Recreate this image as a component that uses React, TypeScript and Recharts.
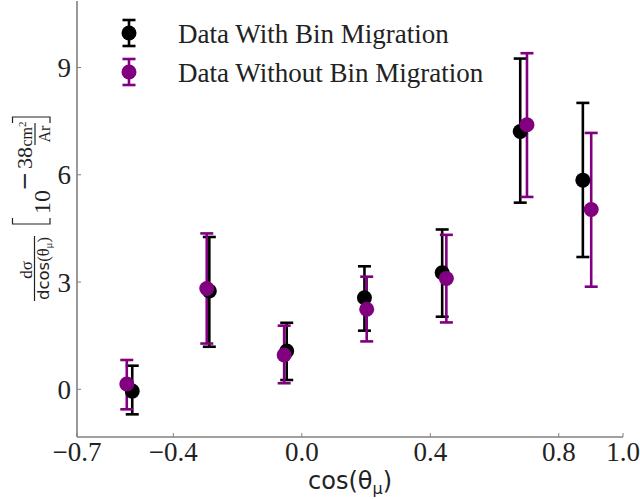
import React from 'react';
import { ScatterChart, Scatter, XAxis, YAxis, ErrorBar, Legend } from 'recharts';

// cos(theta_mu) bin positions (slightly offset per series, as in the plot)
const withX = [-0.528, -0.288, -0.047, 0.195, 0.437, 0.68, 0.875];
const withY = [-0.05, 2.75, 1.07, 2.56, 3.26, 7.21, 5.85];
const withLo = [-0.7, 1.19, 0.26, 1.64, 2.03, 5.22, 3.7];
const withHi = [0.66, 4.26, 1.86, 3.44, 4.47, 9.25, 8.01];

const withoutX = [-0.545, -0.296, -0.055, 0.202, 0.45, 0.701, 0.901];
const withoutY = [0.15, 2.82, 0.96, 2.24, 3.1, 7.4, 5.03];
const withoutLo = [-0.56, 1.28, 0.17, 1.34, 1.87, 5.38, 2.87];
const withoutHi = [0.82, 4.36, 1.78, 3.15, 4.32, 9.4, 7.17];

const xTicks = [-0.7, -0.4, 0.0, 0.4, 0.8, 1.0];
const xTickLabels = ['\u22120.7', '\u22120.4', '0.0', '0.4', '0.8', '1.0'];
const yTicks = [0, 3, 6, 9];
const yTickLabels = ['0', '3', '6', '9'];

const seriesNames = ['Data With Bin Migration', 'Data Without Bin Migration'];
const seriesColors = ['#000000', '#800080'];

const build = (xs: number[], ys: number[], lo: number[], hi: number[]) =>
  xs.map((x, i) => ({ x, y: ys[i], err: [ys[i] - lo[i], hi[i] - ys[i]] }));

const withData = build(withX, withY, withLo, withHi);
const withoutData = build(withoutX, withoutY, withoutLo, withoutHi);

const SERIF = 'Liberation Serif, Times New Roman, serif';
const DSERIF = 'DejaVu Serif, serif';
const SANS = 'DejaVu Sans, sans-serif';
const TEXT = '#222222';
const FRAME = '#808080';

const dot = (color: string) => (p: any) =>
  <circle cx={p.cx} cy={p.cy} r={7.5} fill={color} />;

function YLabel(props: any) {
  const vb = props.viewBox || { x: 0, y: 1, width: 77, height: 436 };
  const cx = (vb.x ?? 0) + 34.5;
  const cy = (vb.y ?? 1) + (vb.height ?? 436) / 2 - 6;
  return (
    <g transform={`translate(${cx},${cy}) rotate(-90)`} fill={TEXT}>
      {/* dσ / dcos(θμ) */}
      <text x={-57} y={-3} textAnchor="middle" fontFamily={SERIF} fontSize={17}>dσ</text>
      <line x1={-88} x2={-23} y1={0} y2={0} stroke={TEXT} strokeWidth={1.2} />
      <text x={-55.5} y={14} textAnchor="middle" fontSize={16.5}>
        <tspan fontFamily={SANS}>dcos</tspan>
        <tspan fontFamily={SERIF}>(θ</tspan>
        <tspan fontFamily={SERIF} fontSize={11} dy={3.5}>μ</tspan>
        <tspan fontFamily={SERIF} dy={-3.5}>)</tspan>
      </text>
      {/* [ 10^-38 cm^2/Ar ] */}
      <path d="M -5 -22 L -11 -22 L -11 15.5 L -5 15.5" fill="none" stroke={TEXT} strokeWidth={1.2} />
      <text x={-1} y={15.5} fontFamily={SERIF} fontSize={24}>10</text>
      <text x={22} y={-2.5} fontFamily={DSERIF} fontSize={23}>{'\u2212'}</text>
      <text x={44} y={-2.5} fontFamily={SERIF} fontSize={22}>38</text>
      <text x={79} y={-3} textAnchor="middle" fontFamily={SERIF} fontSize={16}>
        cm<tspan fontSize={11} dy={-6}>2</tspan>
      </text>
      <line x1={68} x2={90} y1={0.5} y2={0.5} stroke={TEXT} strokeWidth={1.2} />
      <text x={79} y={15.5} textAnchor="middle" fontFamily={SERIF} fontSize={16}>Ar</text>
      <path d="M 90 -22 L 96 -22 L 96 15.5 L 90 15.5" fill="none" stroke={TEXT} strokeWidth={1.2} />
    </g>
  );
}

function XLabel(props: any) {
  const vb = props.viewBox || { x: 77, y: 437, width: 546, height: 62 };
  const cx = vb.x + vb.width / 2;
  return (
    <text x={cx} y={vb.y + 52} textAnchor="middle" fill={TEXT} fontSize={24}>
      <tspan fontFamily={SANS}>cos</tspan>
      <tspan fontFamily={SANS}>(θ</tspan>
      <tspan fontFamily={SANS} fontSize={16} dy={5}>μ</tspan>
      <tspan fontFamily={SANS} dy={-5}>)</tspan>
    </text>
  );
}

function LegendBox() {
  const rows = [0, 1];
  return (
    <svg width={420} height={95} style={{ overflow: 'visible' }}>
      {rows.map((i) => {
        const cy = 28 + i * 39;
        const c = seriesColors[i];
        return (
          <g key={i}>
            <line x1={29} x2={29} y1={cy - 13} y2={cy + 13} stroke={c} strokeWidth={2.6} />
            <line x1={22.5} x2={35.5} y1={cy - 13} y2={cy - 13} stroke={c} strokeWidth={2.6} />
            <line x1={22.5} x2={35.5} y1={cy + 13} y2={cy + 13} stroke={c} strokeWidth={2.6} />
            <circle cx={29} cy={cy} r={7.5} fill={c} />
            <text x={78} y={cy + 10} fontFamily={SERIF} fontSize={27} fill={TEXT}>{seriesNames[i]}</text>
          </g>
        );
      })}
    </svg>
  );
}

export default function App() {
  return (
    <div style={{ position: 'absolute', left: 0, top: 0, width: 640, height: 499, background: '#fff' }}>
      <ScatterChart width={640} height={499} margin={{ top: 1, right: 17, bottom: 0, left: 0 }}>
        <XAxis
          type="number"
          dataKey="x"
          domain={[-0.7, 1.0]}
          allowDataOverflow
          ticks={xTicks}
          interval={0}
          tickFormatter={(v: number) => xTickLabels[xTicks.indexOf(v)] ?? String(v)}
          height={62}
          tickSize={-4}
          tickMargin={9}
          axisLine={{ stroke: FRAME, strokeWidth: 1.6 }}
          tickLine={{ stroke: FRAME, strokeWidth: 1 }}
          tick={{ fill: TEXT, fontSize: 27, fontFamily: SERIF }}
          label={<XLabel />}
        />
        <XAxis
          xAxisId="top"
          orientation="top"
          type="number"
          domain={[-0.7, 1.0]}
          allowDataOverflow
          height={0}
          tick={false}
          tickLine={false}
          axisLine={{ stroke: FRAME, strokeWidth: 1.6 }}
        />
        <YAxis
          type="number"
          dataKey="y"
          domain={[-1.334, 10.86]}
          allowDataOverflow
          ticks={yTicks}
          interval={0}
          tickFormatter={(v: number) => yTickLabels[yTicks.indexOf(v)] ?? String(v)}
          width={77}
          tickSize={-4}
          tickMargin={10}
          axisLine={{ stroke: FRAME, strokeWidth: 1.6 }}
          tickLine={{ stroke: FRAME, strokeWidth: 1 }}
          tick={{ fill: TEXT, fontSize: 27, fontFamily: SERIF }}
          label={<YLabel />}
        />
        <YAxis
          yAxisId="right"
          orientation="right"
          type="number"
          domain={[-1.334, 10.86]}
          allowDataOverflow
          width={0}
          tick={false}
          tickLine={false}
          axisLine={{ stroke: FRAME, strokeWidth: 1.6 }}
        />
        <Legend
          layout="vertical"
          align="center"
          verticalAlign="middle"
          content={<LegendBox />}
          wrapperStyle={{ left: 100, top: 5, width: 420, height: 95 }}
        />
        <Scatter name={seriesNames[0]} data={withData} fill={seriesColors[0]} shape={dot(seriesColors[0])} isAnimationActive={false}>
          <ErrorBar dataKey="err" direction="y" width={6.5} strokeWidth={2.6} stroke={seriesColors[0]} isAnimationActive={false} />
        </Scatter>
        <Scatter name={seriesNames[1]} data={withoutData} fill={seriesColors[1]} shape={dot(seriesColors[1])} isAnimationActive={false}>
          <ErrorBar dataKey="err" direction="y" width={6.5} strokeWidth={2.6} stroke={seriesColors[1]} isAnimationActive={false} />
        </Scatter>
      </ScatterChart>
    </div>
  );
}
